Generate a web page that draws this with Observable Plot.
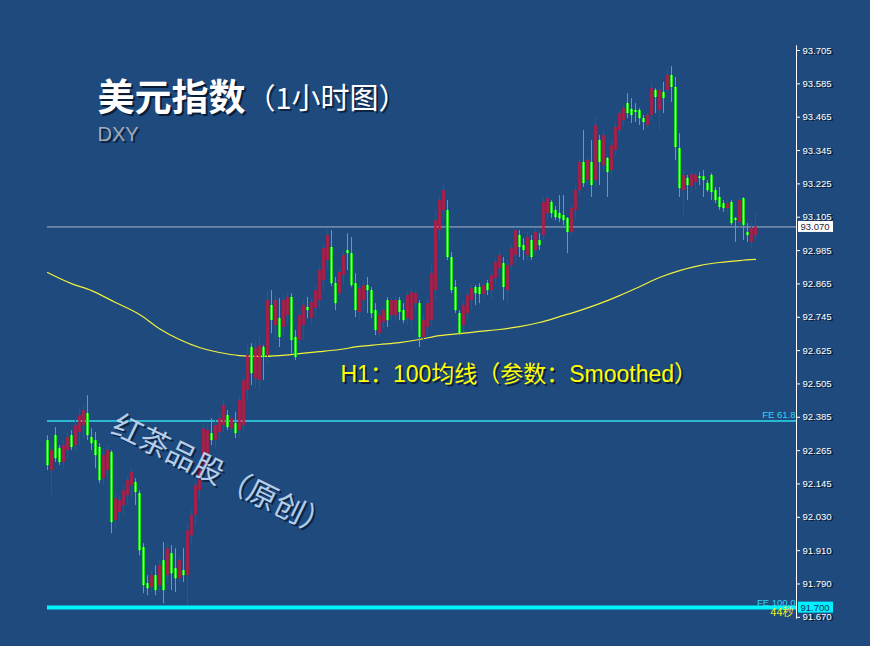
<!DOCTYPE html>
<html><head><meta charset="utf-8">
<script src="https://cdn.jsdelivr.net/npm/d3@7"></script>
<script src="https://cdn.jsdelivr.net/npm/@observablehq/plot@0.6"></script>
<style>
html,body{margin:0;padding:0;background:#1f4a7e;}
#chart{width:870px;height:646px;overflow:hidden;}
</style></head><body><div id="chart"></div>
<script>
// ---- DATA (USD index, 1-hour candles) ----
const highs = [
92.319,92.283,92.348,92.283,92.301,92.330,92.337,92.380,92.416,92.427,
92.463,92.344,92.330,92.290,92.272,92.283,92.265,92.114,92.103,92.139,
92.175,92.204,92.164,92.121,91.930,91.815,91.833,91.851,91.869,91.934,
91.930,91.923,91.912,91.887,91.912,92.002,92.049,92.157,92.229,92.362,
92.355,92.380,92.373,92.398,92.445,92.409,92.391,92.402,92.463,92.535,
92.643,92.650,92.661,92.679,92.643,92.841,92.841,92.823,92.812,92.823,
92.830,92.830,92.697,92.769,92.805,92.816,92.812,92.859,92.931,93.010,
93.057,93.057,92.888,92.920,92.985,93.046,93.032,92.902,92.859,92.877,
92.888,92.852,92.794,92.758,92.776,92.816,92.812,92.819,92.816,92.794,
92.841,92.852,92.841,92.805,92.751,92.812,92.931,93.129,93.183,93.226,
93.165,92.978,92.877,92.769,92.805,92.841,92.859,92.859,92.866,92.870,
92.877,92.913,92.956,92.985,92.960,92.949,93.003,93.068,93.057,93.028,
93.050,93.039,93.064,93.046,93.176,93.183,93.165,93.143,93.183,93.183,
93.104,93.147,93.219,93.316,93.417,93.327,93.381,93.464,93.399,93.417,
93.320,93.381,93.442,93.489,93.507,93.550,93.532,93.514,93.496,93.471,
93.478,93.590,93.568,93.572,93.590,93.633,93.647,93.608,93.406,93.273,
93.255,93.273,93.266,93.266,93.273,93.237,93.262,93.212,93.212,93.165,
93.165,93.165,93.104,93.172,93.176,93.082,93.082,93.118];
const opens = [
92.301,92.193,92.319,92.272,92.222,92.265,92.319,92.283,92.330,92.355,
92.398,92.312,92.301,92.276,92.164,92.193,92.258,92.013,92.042,92.067,
92.103,92.139,92.150,92.110,91.916,91.786,91.772,91.815,91.779,91.869,
91.815,91.894,91.840,91.804,91.833,91.815,91.959,92.031,92.121,92.211,
92.247,92.326,92.301,92.330,92.355,92.391,92.344,92.362,92.337,92.355,
92.481,92.636,92.524,92.517,92.636,92.607,92.787,92.715,92.740,92.708,
92.751,92.816,92.672,92.661,92.715,92.780,92.740,92.776,92.805,92.877,
92.949,92.996,92.866,92.830,92.895,92.985,92.974,92.866,92.762,92.805,
92.859,92.841,92.769,92.686,92.726,92.805,92.751,92.751,92.805,92.769,
92.740,92.733,92.794,92.794,92.672,92.708,92.733,92.841,93.057,93.129,
93.129,92.960,92.852,92.758,92.715,92.758,92.805,92.852,92.852,92.827,
92.866,92.841,92.884,92.920,92.938,92.841,92.931,92.967,93.039,93.003,
92.967,93.021,92.985,93.021,93.039,93.118,93.158,93.129,93.118,93.111,
93.100,93.050,93.129,93.201,93.302,93.237,93.302,93.237,93.381,93.291,
93.316,93.273,93.345,93.417,93.453,93.514,93.493,93.489,93.489,93.460,
93.435,93.471,93.561,93.489,93.554,93.561,93.615,93.572,93.352,93.201,
93.244,93.215,93.230,93.251,93.251,93.226,93.255,93.201,93.176,93.154,
93.136,93.158,93.100,93.086,93.172,93.050,93.014,93.039];
const closes = [
92.211,92.265,92.236,92.222,92.283,92.312,92.276,92.355,92.391,92.409,
92.319,92.290,92.247,92.157,92.247,92.265,92.006,92.092,92.085,92.121,
92.157,92.186,92.114,91.905,91.779,91.768,91.815,91.761,91.851,91.761,
91.912,91.822,91.804,91.869,91.815,91.977,92.031,92.139,92.211,92.344,
92.337,92.301,92.355,92.380,92.427,92.348,92.380,92.326,92.445,92.517,
92.607,92.542,92.632,92.643,92.600,92.805,92.733,92.805,92.672,92.805,
92.816,92.661,92.600,92.751,92.787,92.769,92.798,92.841,92.913,92.992,
93.039,92.866,92.794,92.906,92.967,92.974,92.859,92.769,92.848,92.859,
92.841,92.758,92.697,92.751,92.769,92.733,92.805,92.805,92.762,92.733,
92.823,92.834,92.830,92.672,92.733,92.794,92.902,93.093,93.165,93.201,
92.960,92.841,92.769,92.686,92.787,92.823,92.848,92.830,92.827,92.859,
92.841,92.895,92.942,92.967,92.852,92.931,92.992,93.057,92.996,92.985,
93.032,92.960,93.050,93.003,93.158,93.172,93.118,93.104,93.100,93.093,
93.050,93.136,93.201,93.302,93.226,93.309,93.219,93.435,93.302,93.399,
93.266,93.363,93.428,93.478,93.496,93.478,93.471,93.482,93.460,93.446,
93.471,93.568,93.536,93.561,93.532,93.615,93.572,93.356,93.208,93.255,
93.219,93.259,93.255,93.244,93.237,93.201,93.194,93.165,93.140,93.136,
93.154,93.082,93.093,93.165,93.075,93.039,93.064,93.070];
const lows = [
92.193,92.103,92.222,92.211,92.200,92.236,92.265,92.258,92.283,92.308,
92.301,92.265,92.200,92.146,92.139,92.164,91.966,91.984,92.013,92.031,
92.067,92.092,92.067,91.887,91.750,91.743,91.754,91.743,91.754,91.714,
91.790,91.761,91.754,91.779,91.790,91.700,91.923,91.995,92.085,92.175,
92.211,92.283,92.272,92.301,92.330,92.337,92.330,92.308,92.308,92.330,
92.445,92.499,92.488,92.481,92.517,92.578,92.686,92.661,92.636,92.679,
92.715,92.614,92.589,92.643,92.661,92.740,92.715,92.751,92.776,92.841,
92.920,92.855,92.769,92.823,92.859,92.913,92.852,92.744,92.733,92.769,
92.758,92.740,92.679,92.672,92.704,92.708,92.733,92.726,92.733,92.722,
92.715,92.697,92.769,92.636,92.654,92.679,92.708,92.805,93.021,93.093,
92.949,92.830,92.758,92.679,92.690,92.733,92.769,92.787,92.794,92.812,
92.823,92.805,92.859,92.895,92.805,92.794,92.913,92.938,92.960,92.949,
92.949,92.949,92.967,92.985,93.021,93.093,93.100,93.093,93.086,93.075,
92.974,93.032,93.100,93.183,93.212,93.219,93.176,93.212,93.219,93.266,
93.176,93.244,93.320,93.399,93.428,93.460,93.442,93.446,93.435,93.417,
93.424,93.453,93.478,93.417,93.478,93.554,93.518,93.309,93.176,93.104,
93.165,93.190,93.201,93.219,93.176,93.194,93.165,93.154,93.129,93.122,
93.118,93.075,93.014,93.068,93.021,93.014,92.992,93.021];

// 100-period smoothed moving average (bar index, value)
const maIndex  = [0,6,11,17,23,28,33,38,43,48,53,58,63,68,73,78,83,88,93,98,103,108,113,118,123,128,133,138,143,148,153,158,163,168,173,177];
const maValues = [92.906,92.866,92.841,92.798,92.755,92.704,92.665,92.636,92.618,92.607,92.604,92.607,92.614,92.621,92.629,92.640,92.647,92.654,92.665,92.679,92.686,92.694,92.701,92.711,92.726,92.747,92.769,92.794,92.823,92.855,92.888,92.913,92.931,92.942,92.949,92.953];

// price axis
const tickValues = [93.705,93.585,93.465,93.345,93.225,93.105,92.985,92.865,92.745,92.625,92.505,92.385,92.265,92.145,92.025,91.905,91.785,91.665];
const tickLabels = ["93.705","93.585","93.465","93.345","93.225","93.105","92.985","92.865","92.745","92.625","92.505","92.385","92.265","92.145","92.030","91.910","91.790","91.670"];

// horizontal levels
const currentPrice = 93.070;
const fe618 = 92.372;
const fe100 = 91.700;

// texts
const titleMain = "美元指数";
const titleSub = "（1小时图）";
const symbolText = "DXY";
const watermark = "红茶品股（原创）";
const maNote = "H1：100均线（参数：Smoothed）";
const timerText = "44秒";

// ---- BUILD ----
const candles = highs.map((h, i) => ({i, high: h, open: opens[i], close: closes[i], low: lows[i]}));
const ups = candles.filter(d => d.close >= d.open);
const downs = candles.filter(d => d.close < d.open);
const ma = maIndex.map((i, k) => ({i, v: maValues[k]}));
const labelOf = new Map(tickValues.map((v, k) => [v, tickLabels[k]]));

const xDomain = [-11.75, 187.25];
const yDomain = [91.56, 93.885];
const xEnd = xDomain[1];
const axisSpan = {top: 93.722, bottom: 91.658};

const RED = "#c8143a", GREEN = "#1edc1e", SHADOW = "#06152b";
const cjk = "'Noto Sans CJK SC', 'Liberation Sans', sans-serif";
const latin = "'Liberation Sans', sans-serif";
const mixed = "'Liberation Sans', 'Noto Sans CJK SC', sans-serif";

const chart = Plot.plot({
  width: 870, height: 646,
  marginLeft: 0, marginRight: 74, marginTop: 0, marginBottom: 0,
  x: {domain: xDomain, axis: null},
  y: {domain: yDomain, axis: null},
  style: {background: "#1f4a7e", overflow: "visible"},
  marks: [
    // levels
    Plot.ruleY([currentPrice], {x1: candles[0].i, x2: xEnd, stroke: "#a9b6c8", strokeWidth: 1}),
    Plot.ruleY([fe618], {x1: candles[0].i, x2: xEnd, stroke: "#2fdcef", strokeWidth: 1.5}),
    // moving average
    Plot.line(ma, {x: "i", y: "v", stroke: "#f2f23a", strokeWidth: 1.2, curve: "monotone-x"}),
    // candles: wicks
    Plot.ruleX(ups, {x: "i", y1: "low", y2: "high", stroke: RED, strokeWidth: 1}),
    Plot.ruleX(downs, {x: "i", y1: "low", y2: "high", stroke: GREEN, strokeWidth: 1}),
    // candles: bodies
    Plot.ruleX(ups, {x: "i", y1: "open", y2: "close", stroke: RED, strokeWidth: 2.5}),
    Plot.ruleX(downs, {x: "i", y1: "open", y2: "close", stroke: GREEN, strokeWidth: 3}),
    Plot.ruleX(downs, {x: "i", y1: "open", y2: "close", stroke: "#b8ffb8", strokeWidth: 1}),
    // 100% level (thick)
    Plot.ruleY([fe100], {x1: candles[0].i, x2: xEnd, stroke: "#00f4ff", strokeWidth: 4}),
    // price axis
    Plot.ruleX([xEnd], {y1: axisSpan.top, y2: axisSpan.bottom, stroke: "#ffffff", strokeWidth: 1}),
    Plot.axisY(tickValues, {anchor: "right", tickSize: 0, tickPadding: 7, dx: 1, dy: 1, tickFormat: d => labelOf.get(d), fill: SHADOW, stroke: null, fontSize: 9.5, fontFamily: latin}),
    Plot.axisY(tickValues, {anchor: "right", tickSize: 3, tickPadding: 3, tickFormat: d => labelOf.get(d), fill: "#ffffff", stroke: "#ffffff", fontSize: 9.5, fontFamily: latin}),
    // price boxes
    Plot.rect([{p: currentPrice}], {x1: xEnd, x2: xEnd, y1: "p", y2: "p", insetLeft: 2, insetRight: -37, insetTop: -5.5, insetBottom: -5.5, fill: "#ffffff"}),
    Plot.text([{p: currentPrice}], {y: "p", text: d => d.p.toFixed(3), frameAnchor: "right", textAnchor: "start", dx: 4, fill: "#1b2740", fontSize: 9.5, fontFamily: latin}),
    Plot.rect([{p: fe100}], {x1: xEnd, x2: xEnd, y1: "p", y2: "p", insetLeft: 2, insetRight: -37, insetTop: -5.5, insetBottom: -5.5, fill: "#00f0ff"}),
    Plot.text([{p: fe100}], {y: "p", text: d => d.p.toFixed(3), frameAnchor: "right", textAnchor: "start", dx: 4, fill: "#123060", fontSize: 9.5, fontFamily: latin}),
    // level labels
    Plot.text([{p: fe618, t: "FE 61.8"}], {y: "p", text: "t", frameAnchor: "right", textAnchor: "end", dx: -1, dy: -6, fill: "#34d6ee", fontSize: 9.5, fontFamily: latin}),
    Plot.text([{p: fe100, t: "FE 100.0"}], {y: "p", text: "t", frameAnchor: "right", textAnchor: "end", dx: -1, dy: -5, fill: "#34d6ee", fontSize: 9.5, fontFamily: latin}),
    Plot.text([{p: fe100, t: timerText}], {y: "p", text: "t", frameAnchor: "right", textAnchor: "end", dx: -3, dy: 5, fill: "#f0f020", fontSize: 11, fontFamily: cjk}),
    // title (with offset shadows)
    Plot.text([titleMain], {frameAnchor: "top-left", lineAnchor: "bottom", dx: 99, dy: 112, fill: SHADOW, fillOpacity: 0.85, fontSize: 37, fontWeight: "bold", fontFamily: cjk}),
    Plot.text([titleMain], {frameAnchor: "top-left", lineAnchor: "bottom", dx: 97, dy: 110, fill: "#ffffff", fontSize: 37, fontWeight: "bold", fontFamily: cjk}),
    Plot.text([titleSub], {frameAnchor: "top-left", lineAnchor: "bottom", dx: 248, dy: 110, fill: SHADOW, fillOpacity: 0.7, fontSize: 29, fontFamily: cjk}),
    Plot.text([titleSub], {frameAnchor: "top-left", lineAnchor: "bottom", dx: 246, dy: 108, fill: "#ffffff", fontSize: 29, fontFamily: cjk}),
    Plot.text([symbolText], {frameAnchor: "top-left", lineAnchor: "bottom", dx: 99, dy: 142, fill: SHADOW, fillOpacity: 0.8, fontSize: 20, fontFamily: latin}),
    Plot.text([symbolText], {frameAnchor: "top-left", lineAnchor: "bottom", dx: 97, dy: 140, fill: "#a3abb8", fontSize: 20, fontFamily: latin}),
    // watermark
    Plot.text([watermark], {frameAnchor: "top-left", lineAnchor: "bottom", dx: 111, dy: 434, rotate: 26, fill: SHADOW, fillOpacity: 0.7, fontSize: 30, fontFamily: cjk}),
    Plot.text([watermark], {frameAnchor: "top-left", lineAnchor: "bottom", dx: 109, dy: 432, rotate: 26, fill: "#b5cde8", fontSize: 30, fontFamily: cjk}),
    // MA annotation
    Plot.text([maNote], {frameAnchor: "top-left", lineAnchor: "bottom", dx: 342, dy: 383, fill: SHADOW, fillOpacity: 0.8, fontSize: 23, fontFamily: mixed}),
    Plot.text([maNote], {frameAnchor: "top-left", lineAnchor: "bottom", dx: 340, dy: 381, fill: "#ffff00", fontSize: 23, fontFamily: mixed})
  ]
});
document.getElementById("chart").appendChild(chart);
</script>
</body></html>
